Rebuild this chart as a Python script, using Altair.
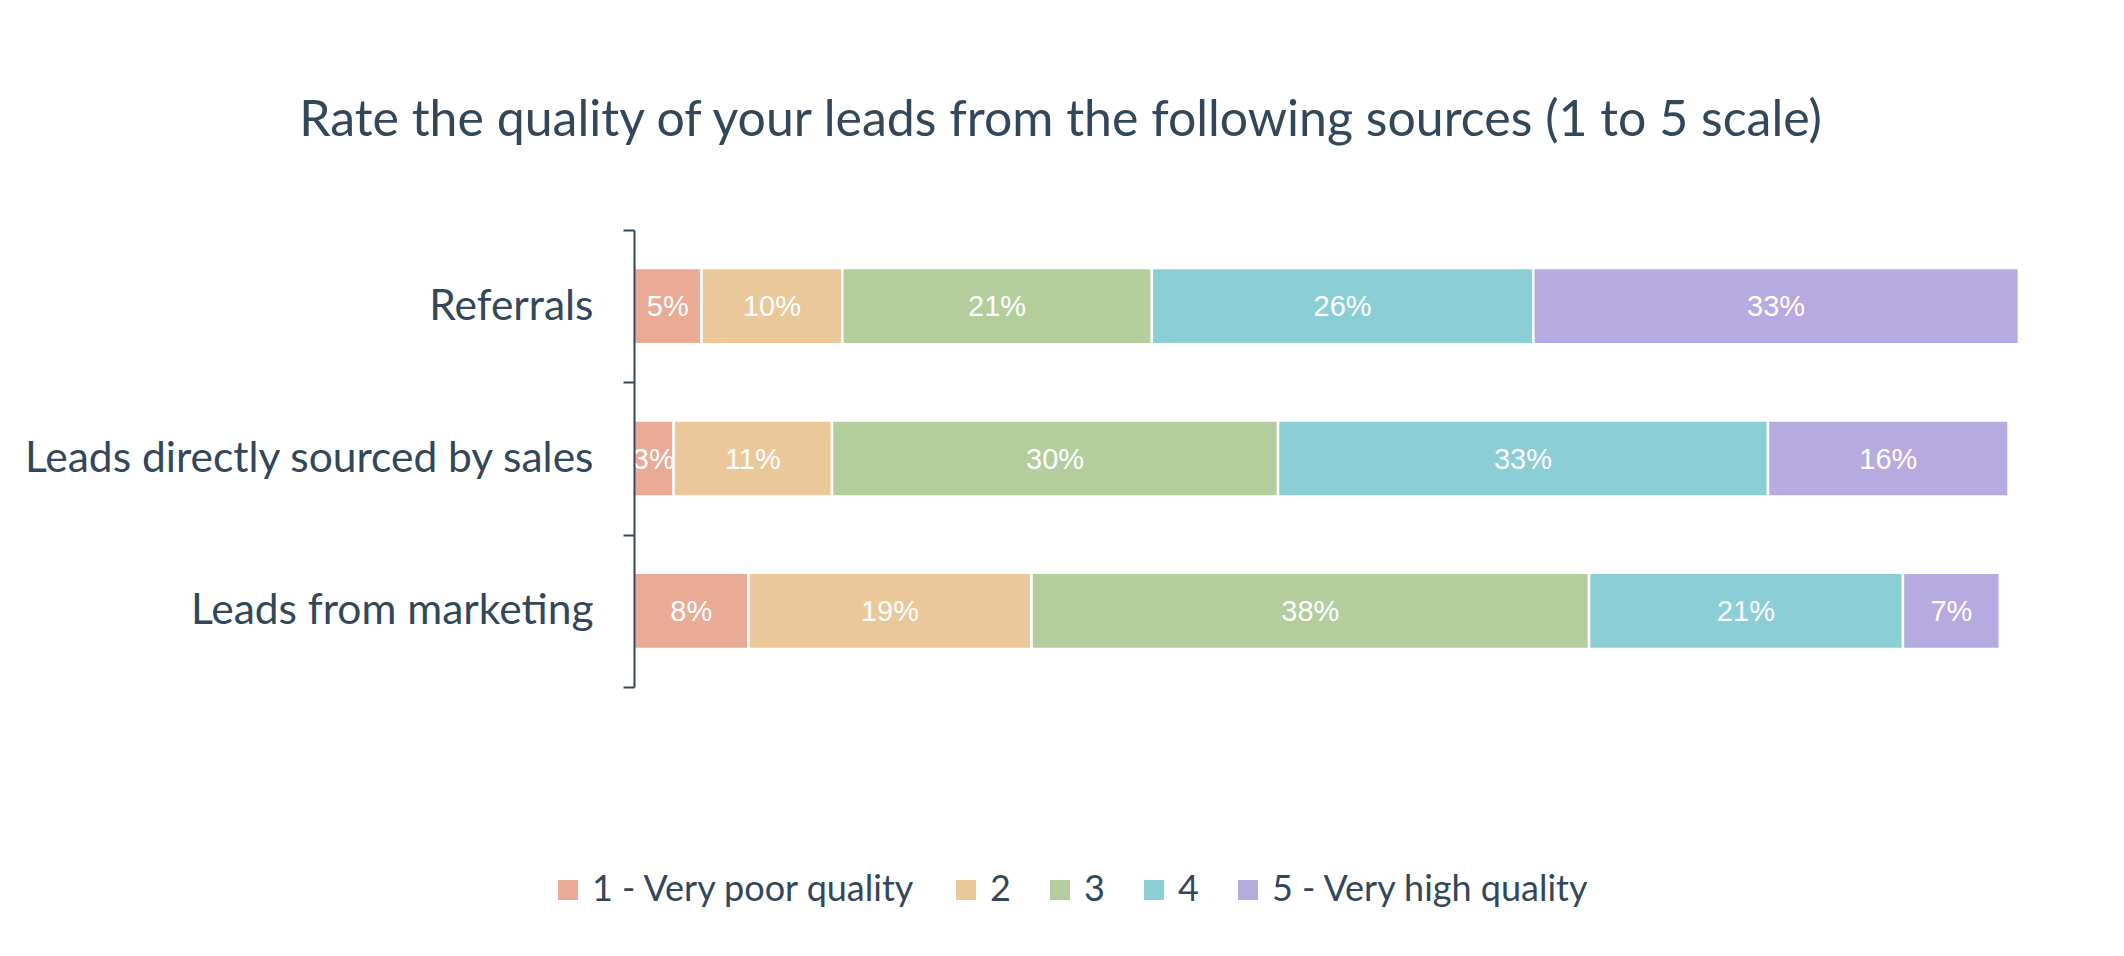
import altair as alt
import pandas as pd

sources = ["Referrals", "Leads directly sourced by sales", "Leads from marketing"]
ratings = ["1 - Very poor quality", "2", "3", "4", "5 - Very high quality"]
referrals = [4.6, 9.6, 21.1, 26.0, 33.1]
sales = [2.7, 10.8, 30.4, 33.4, 16.4]
marketing = [7.8, 19.3, 38.0, 21.4, 6.6]
colors = ["#E9AA96", "#EAC89A", "#B4CD9D", "#8BCED6", "#B6ABE0"]
navy = "#33475B"

rows = []
for src, vals in zip(sources, [referrals, sales, marketing]):
    for i, (r, v) in enumerate(zip(ratings, vals)):
        rows.append({"source": src, "rating": r, "order": i, "value": v})
df = pd.DataFrame(rows)

base = alt.Chart(df).transform_stack(
    stack="value", groupby=["source"], as_=["v0", "v1"], sort=[alt.SortField("order")]
).transform_calculate(
    mid="(datum.v0 + datum.v1) / 2",
    label="format(datum.value, '.0f') + '%'",
)

yenc = alt.Y(
    "source:N", sort=sources, title=None,
    scale=alt.Scale(paddingInner=0, paddingOuter=0),
    axis=alt.Axis(
        tickBand="extent", domainColor=navy, domainWidth=2, tickColor=navy,
        tickWidth=2, tickSize=11, labelFont="Lato", labelFontSize=42.5,
        labelColor=navy, labelPadding=30, labelLimit=1000, grid=False,
        zindex=1,
    ),
)

bars = base.mark_bar(height={"band": 0.5}, stroke="white", strokeWidth=2.5).encode(
    x=alt.X("v0:Q", scale=alt.Scale(domain=[0, 100], nice=False), axis=None),
    x2="v1:Q",
    y=yenc,
    color=alt.Color(
        "rating:N", sort=ratings,
        scale=alt.Scale(domain=ratings, range=colors),
        legend=alt.Legend(
            title=None, orient="none", legendX=-84, legendY=642,
            direction="horizontal", symbolType="square", symbolSize=400,
            symbolStrokeWidth=0, labelFont="Lato", labelFontSize=36,
            labelColor=navy, columnPadding=31, labelOffset=6, labelLimit=1000,
        ),
    ),
)

text = base.mark_text(
    font="Liberation Sans", fontSize=29, color="white", baseline="middle", dy=1
).encode(
    x=alt.X("mid:Q", scale=alt.Scale(domain=[0, 100], nice=False), axis=None),
    y=alt.Y("source:N", sort=sources),
    text="label:N",
)

chart = alt.layer(bars, text).properties(
    width=1467, height=457,
    padding={"left": 626, "top": 222, "right": 15, "bottom": 261},
    autosize=alt.AutoSizeParams(type="none"),
    background="white",
    title=alt.TitleParams(
        "Rate the quality of your leads from the following sources (1 to 5 scale)",
        font="Lato", fontSize=50, fontWeight="normal", color=navy,
        anchor="middle", dx=-307, offset=63,
    ),
).configure_view(stroke=None)

chart.save("out.html", embed_options={"renderer": "svg", "actions": False})
